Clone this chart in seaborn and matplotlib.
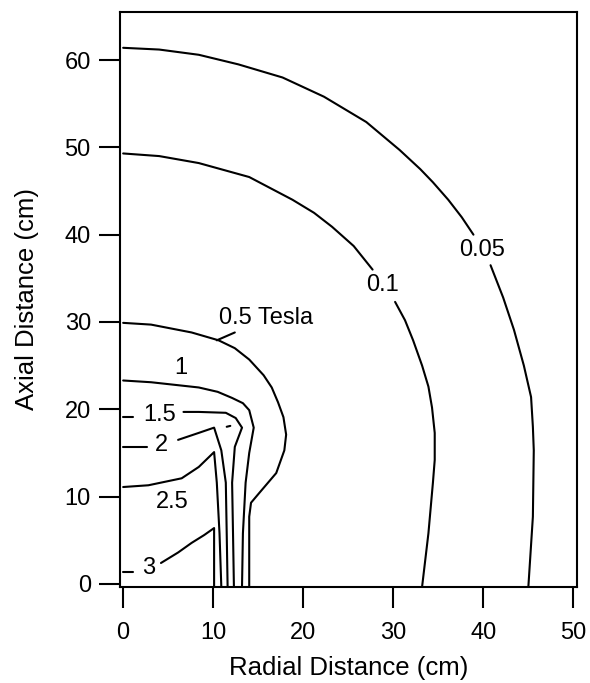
import matplotlib
matplotlib.use("Agg")
import matplotlib.pyplot as plt
import seaborn as sns
import pandas as pd

# ---- contour data (radial r, axial z in cm) ----
# 0.05 T (two pieces, gap for label)
c005a_r = [0.0, 4.0, 8.4, 12.8, 17.7, 22.3, 27.0, 30.7, 33.0, 34.4, 36.1, 37.6, 38.9]
c005a_z = [61.4, 61.2, 60.6, 59.5, 58.0, 55.8, 52.9, 49.7, 47.5, 46.0, 44.0, 42.0, 40.0]
c005b_r = [40.8, 42.2, 43.4, 44.5, 45.3, 45.5, 45.6, 45.5, 45.0]
c005b_z = [36.5, 32.8, 29.1, 25.0, 21.4, 18.0, 15.3, 7.7, -0.3]
# 0.1 T
c01a_r = [0.0, 4.0, 8.4, 14.0, 18.8, 21.2, 23.2, 25.6, 27.7]
c01a_z = [49.3, 49.0, 48.2, 46.6, 44.0, 42.5, 40.9, 38.7, 36.0]
c01b_r = [30.2, 31.3, 32.2, 33.2, 33.9, 34.3, 34.6, 34.6, 34.4, 33.9, 33.2]
c01b_z = [32.3, 30.2, 27.9, 25.0, 22.6, 20.2, 17.3, 14.2, 11.6, 5.8, -0.3]
# 0.5 T
c05_r = [0.0, 3.1, 7.6, 10.6, 12.4, 14.0, 15.6, 16.5, 17.2, 17.8, 18.1, 17.9, 17.0, 15.1, 14.2, 14.0, 14.0]
c05_z = [29.9, 29.7, 28.8, 27.9, 27.0, 25.7, 23.9, 22.5, 20.8, 19.1, 17.1, 15.3, 12.7, 10.4, 9.3, 7.7, -0.3]
# 1 T
c1_r = [0.0, 3.1, 8.4, 10.5, 12.1, 13.3, 14.0, 14.5, 14.0, 13.6, 13.3, 13.2]
c1_z = [23.3, 23.1, 22.5, 22.0, 21.3, 20.7, 19.9, 17.9, 15.0, 11.6, 5.8, -0.3]
# 1.5 T
c15a_r = [0.0, 1.1]
c15a_z = [19.1, 19.1]
c15b_r = [6.7, 8.4, 11.4, 12.5, 13.2, 12.4, 12.1, 12.2, 12.3]
c15b_z = [19.7, 19.7, 19.6, 19.0, 17.9, 15.7, 11.6, 5.8, -0.3]
c15c_r = [11.5, 11.9]
c15c_z = [18.0, 18.1]
# 2 T
c2a_r = [0.0, 2.6]
c2a_z = [15.7, 15.7]
c2b_r = [6.1, 8.4, 10.1, 10.9, 11.4, 11.5, 11.6]
c2b_z = [16.5, 17.3, 17.9, 15.3, 11.6, 5.8, -0.3]
# 2.5 T
c25_r = [0.0, 2.8, 6.5, 8.4, 10.1, 10.4, 10.7, 10.9]
c25_z = [11.1, 11.3, 12.1, 13.4, 15.1, 11.6, 5.8, -0.3]
# 3 T
c3a_r = [0.0, 1.1]
c3a_z = [1.4, 1.4]
c3b_r = [4.2, 6.1, 7.6, 9.0, 10.1, 10.1]
c3b_z = [2.4, 3.6, 4.7, 5.6, 6.4, -0.3]
# leader line for the 0.5 Tesla label
lead_r = [10.4, 12.4]
lead_z = [27.9, 28.8]

label_texts = ["0.05", "0.1", "0.5 Tesla", "1", "1.5", "2", "2.5", "3"]
label_r = [39.9, 28.8, 10.6, 6.4, 4.0, 4.2, 5.4, 2.8]
label_z = [38.3, 34.2, 30.5, 24.7, 19.4, 15.9, 9.4, 1.8]

x_ticks = [0, 10, 20, 30, 40, 50]
y_ticks = [0, 10, 20, 30, 40, 50, 60]

segments = {
    "c005a": (c005a_r, c005a_z), "c005b": (c005b_r, c005b_z),
    "c01a": (c01a_r, c01a_z), "c01b": (c01b_r, c01b_z),
    "c05": (c05_r, c05_z), "c1": (c1_r, c1_z),
    "c15a": (c15a_r, c15a_z), "c15b": (c15b_r, c15b_z), "c15c": (c15c_r, c15c_z),
    "c2a": (c2a_r, c2a_z), "c2b": (c2b_r, c2b_z),
    "c25": (c25_r, c25_z),
    "c3a": (c3a_r, c3a_z), "c3b": (c3b_r, c3b_z),
    "lead": (lead_r, lead_z),
}
rows = []
for name, (rs, zs) in segments.items():
    for i, (r, z) in enumerate(zip(rs, zs)):
        rows.append({"seg": name, "order": i, "r": r, "z": z})
df = pd.DataFrame(rows)

sns.set_theme(style="ticks")
plt.rcParams["font.family"] = ["Liberation Sans", "DejaVu Sans"]

fig = plt.figure(figsize=(5.9, 6.83), dpi=100)
ax = fig.add_axes([120 / 590, 1 - 587 / 683, 457 / 590, 575 / 683])

for name, sub in df.groupby("seg", sort=False):
    sns.lineplot(data=sub, x="r", y="z", sort=False, estimator=None,
                 color="black", linewidth=1.5, ax=ax, legend=False)

for t, r, z in zip(label_texts, label_r, label_z):
    ha = "left" if t == "0.5 Tesla" else "center"
    ax.text(r, z, t, fontsize=17, ha=ha, va="center", color="black")

ax.set_xlim(-0.35, 50.4)
ax.set_ylim(-0.35, 65.5)
ax.set_xticks(x_ticks)
ax.set_yticks(y_ticks)
ax.set_xlabel("Radial Distance (cm)", fontsize=18.5, labelpad=9, color="black")
ax.set_ylabel("Axial Distance (cm)", fontsize=18.5, labelpad=18, color="black")
ax.tick_params(axis="both", direction="out", length=15, width=1.5,
               labelsize=17, colors="black")
ax.tick_params(axis="x", pad=10)
ax.tick_params(axis="y", pad=6)
for s in ax.spines.values():
    s.set_visible(True)
    s.set_color("black")
    s.set_linewidth(1.5)
ax.grid(False)
ax.set_facecolor("white")
fig.patch.set_facecolor("white")

fig.savefig("out.png", dpi=100, facecolor="white")
